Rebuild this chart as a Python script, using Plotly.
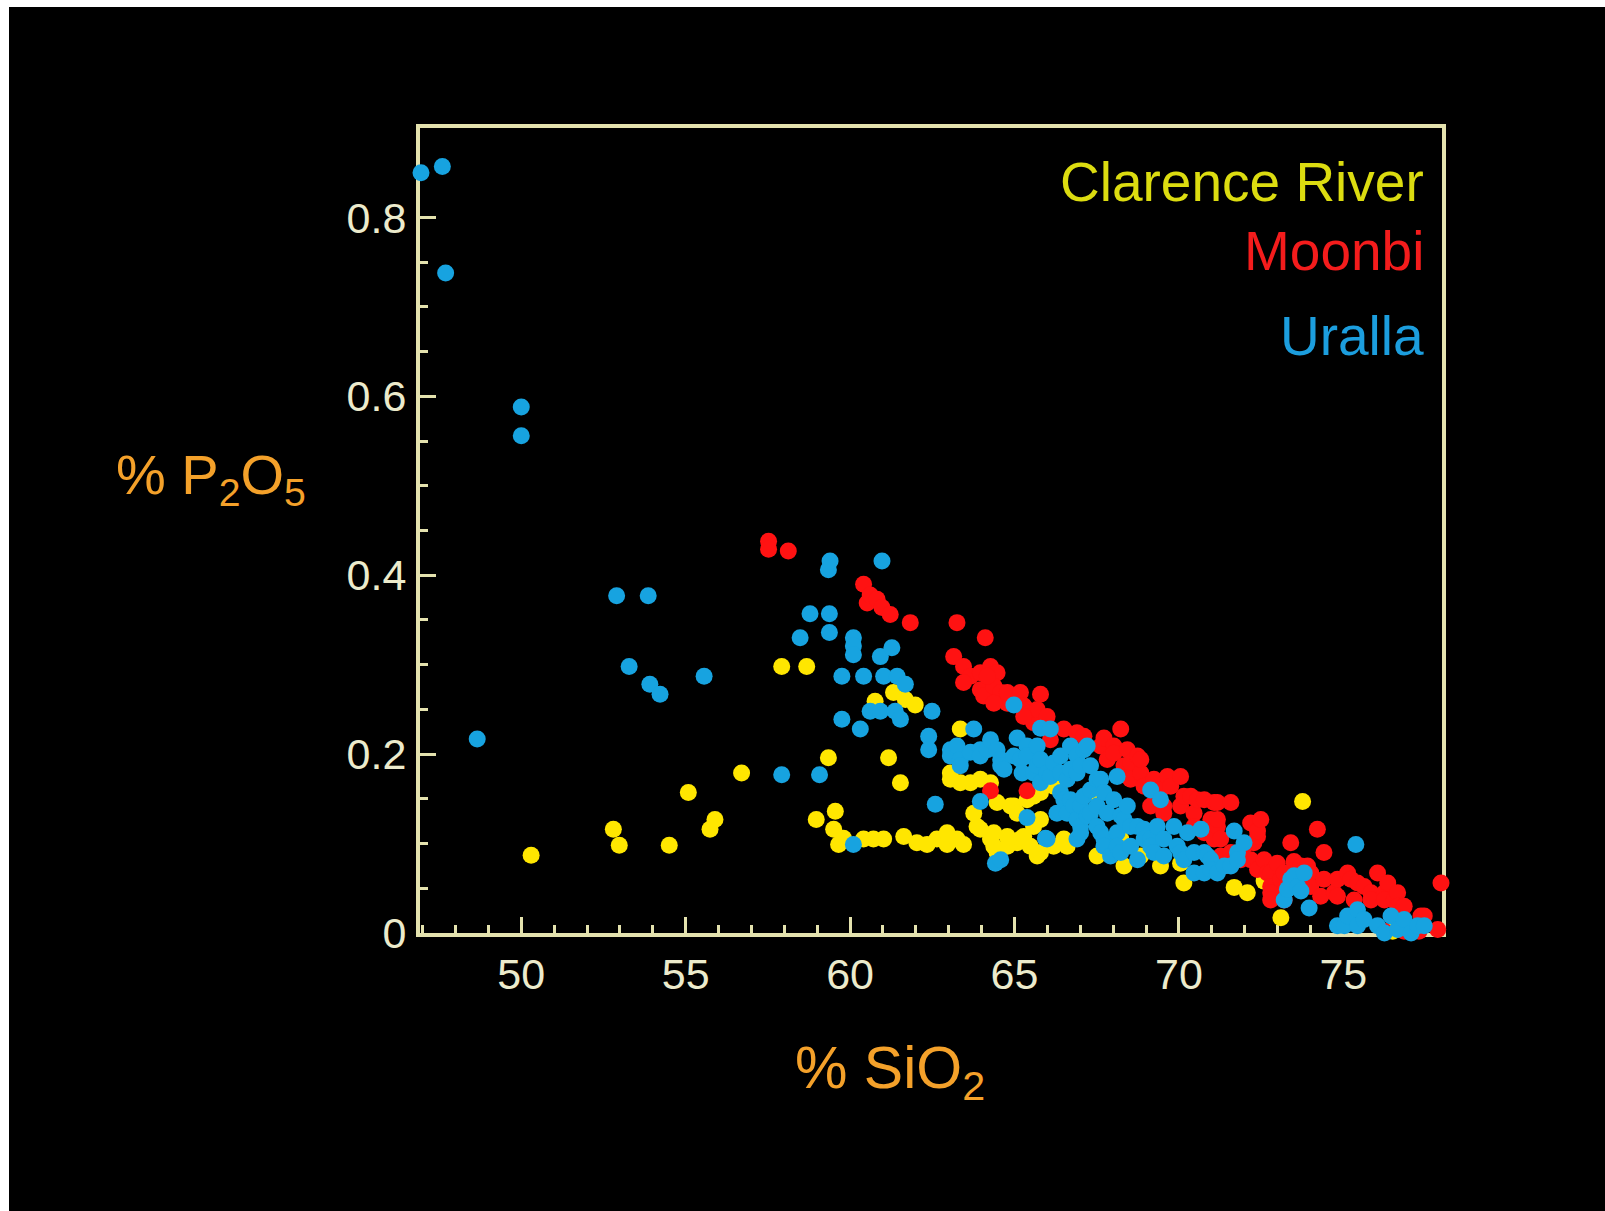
import plotly.graph_objects as go

# ---- Whole-rock analyses: SiO2 (wt %) vs P2O5 (wt %) ----
clarence_sio2 = [50.30, 52.80, 52.98, 54.50, 55.08, 55.74, 55.89, 56.70, 57.92, 58.68,
                 58.97, 59.34, 59.50, 59.55, 59.65, 59.80, 60.41, 60.71, 60.76, 61.02,
                 61.17, 61.32, 61.53, 61.63, 61.68, 61.98, 62.03, 62.34, 62.64, 62.95,
                 62.95, 63.05, 63.05, 63.25, 63.35, 63.35, 63.45, 63.66, 63.76, 63.86,
                 63.96, 63.96, 64.27, 64.27, 64.37, 64.37, 64.47, 64.47, 64.78, 64.78,
                 64.88, 64.98, 65.08, 65.08, 65.18, 65.28, 65.38, 65.48, 65.58, 65.58,
                 65.69, 65.79, 65.79, 65.79, 66.19, 66.19, 66.40, 66.50, 66.60, 67.31,
                 67.51, 68.23, 68.33, 68.84, 69.44, 70.05, 70.15, 71.68, 72.08, 72.59,
                 73.10, 73.76, 76.50]
clarence_p2o5 = [0.087, 0.116, 0.098, 0.098, 0.157, 0.116, 0.127, 0.179, 0.298, 0.298,
                 0.127, 0.196, 0.116, 0.136, 0.099, 0.106, 0.105, 0.105, 0.259, 0.105,
                 0.196, 0.269, 0.168, 0.108, 0.261, 0.255, 0.101, 0.099, 0.105, 0.112,
                 0.099, 0.179, 0.172, 0.105, 0.228, 0.168, 0.099, 0.168, 0.134, 0.119,
                 0.172, 0.116, 0.168, 0.105, 0.112, 0.097, 0.146, 0.090, 0.108, 0.097,
                 0.142, 0.142, 0.134, 0.101, 0.105, 0.108, 0.149, 0.097, 0.153, 0.119,
                 0.086, 0.157, 0.127, 0.090, 0.164, 0.097, 0.168, 0.105, 0.097, 0.157,
                 0.086, 0.105, 0.075, 0.086, 0.075, 0.078, 0.056, 0.051, 0.045, 0.058,
                 0.017, 0.147, 0.002]

moonbi_sio2 = [57.52, 57.52, 58.12, 60.41, 60.52, 60.61, 60.82, 60.97, 61.22, 61.83,
               63.25, 64.11, 63.15, 63.45, 63.66, 63.96, 64.27, 64.47, 63.45, 63.96,
               64.37, 64.06, 64.37, 64.17, 64.58, 64.78, 64.37, 64.78, 65.18, 65.28,
               65.38, 65.48, 65.58, 65.69, 65.79, 65.99, 65.28, 66.09, 66.50, 66.90,
               67.11, 67.62, 67.72, 67.82, 68.02, 68.02, 68.23, 68.33, 68.43, 68.53,
               68.53, 68.74, 68.84, 68.84, 68.94, 69.14, 69.24, 69.44, 69.54, 69.54,
               69.65, 69.75, 70.05, 70.05, 70.15, 70.36, 70.46, 70.46, 70.56, 70.77,
               70.77, 70.87, 70.97, 71.07, 71.07, 71.17, 71.17, 71.17, 71.27, 71.27,
               71.38, 71.58, 71.58, 71.88, 71.98, 72.18, 72.18, 72.28, 72.39, 72.39,
               72.39, 72.49, 72.59, 72.69, 72.79, 72.79, 72.79, 72.79, 72.99, 73.10,
               73.20, 73.20, 73.20, 73.40, 73.50, 73.71, 73.91, 74.01, 74.01, 74.21,
               74.31, 74.41, 74.41, 74.72, 74.82, 74.82, 75.13, 75.23, 75.33, 75.43,
               75.63, 75.84, 75.84, 76.04, 76.25, 76.25, 76.35, 76.55, 76.65, 76.65,
               76.85, 77.36, 77.46, 77.87, 77.97, 76.25, 76.85, 77.30, 64.27, 65.38]
moonbi_p2o5 = [0.438, 0.429, 0.427, 0.390, 0.369, 0.378, 0.373, 0.364, 0.356, 0.347,
               0.347, 0.330, 0.309, 0.298, 0.287, 0.291, 0.298, 0.291, 0.280, 0.272,
               0.265, 0.265, 0.276, 0.287, 0.269, 0.257, 0.257, 0.269, 0.269, 0.254,
               0.250, 0.246, 0.235, 0.250, 0.267, 0.242, 0.242, 0.216, 0.228, 0.224,
               0.220, 0.209, 0.218, 0.194, 0.209, 0.201, 0.228, 0.187, 0.205, 0.190,
               0.172, 0.198, 0.179, 0.194, 0.164, 0.142, 0.172, 0.160, 0.142, 0.134,
               0.175, 0.164, 0.175, 0.142, 0.153, 0.153, 0.134, 0.119, 0.149, 0.149,
               0.112, 0.116, 0.127, 0.146, 0.105, 0.146, 0.119, 0.127, 0.105, 0.086,
               0.075, 0.146, 0.090, 0.082, 0.097, 0.123, 0.082, 0.101, 0.108, 0.114,
               0.071, 0.127, 0.082, 0.067, 0.067, 0.052, 0.045, 0.037, 0.078, 0.060,
               0.067, 0.045, 0.037, 0.101, 0.080, 0.075, 0.075, 0.067, 0.052, 0.116,
               0.041, 0.090, 0.060, 0.045, 0.060, 0.041, 0.067, 0.060, 0.037, 0.056,
               0.052, 0.045, 0.037, 0.067, 0.045, 0.037, 0.056, 0.037, 0.045, 0.030,
               0.030, 0.019, 0.019, 0.004, 0.056, 0.002, 0.002, 0.002, 0.159, 0.159]

uralla_sio2 = [46.95, 47.60, 47.70, 48.66, 50.00, 50.00, 52.90, 53.86, 53.28, 53.91,
               54.22, 55.56, 57.92, 58.48, 58.78, 59.07, 59.34, 59.39, 59.37, 59.37,
               59.75, 59.75, 60.10, 60.10, 60.10, 60.10, 60.31, 60.41, 60.61, 60.92,
               60.92, 60.97, 61.02, 61.27, 61.37, 61.43, 61.53, 61.68, 62.39, 62.39,
               62.49, 62.59, 63.05, 63.05, 63.25, 63.35, 63.35, 63.66, 63.76, 63.96,
               63.96, 63.96, 64.17, 64.27, 64.42, 64.47, 64.58, 64.58, 64.58, 64.68,
               64.98, 64.98, 65.08, 65.18, 65.23, 65.38, 65.38, 65.38, 65.58, 65.69,
               65.69, 65.79, 65.79, 65.79, 65.94, 65.99, 65.99, 66.09, 66.09, 66.19,
               66.29, 66.40, 66.40, 66.40, 66.50, 66.60, 66.60, 66.70, 66.70, 66.70,
               66.80, 66.90, 66.90, 66.90, 66.90, 67.01, 67.01, 67.01, 67.01, 67.11,
               67.11, 67.21, 67.21, 67.31, 67.31, 67.31, 67.51, 67.51, 67.51, 67.62,
               67.62, 67.72, 67.72, 67.72, 67.82, 67.92, 68.02, 68.12, 68.12, 68.12,
               68.23, 68.23, 68.33, 68.43, 68.53, 68.53, 68.74, 68.74, 68.94, 68.94,
               69.14, 69.14, 69.14, 69.24, 69.34, 69.44, 69.54, 69.54, 69.85, 69.95,
               70.05, 70.15, 70.26, 70.46, 70.46, 70.67, 70.77, 70.77, 70.87, 70.97,
               70.97, 71.17, 71.38, 71.58, 71.68, 71.78, 71.78, 71.98, 73.20, 73.30,
               73.40, 73.50, 73.61, 73.71, 73.81, 73.96, 74.82, 75.03, 75.13, 75.38,
               75.43, 75.43, 75.63, 76.04, 76.25, 76.45, 76.65, 76.85, 77.06, 77.26,
               77.46]
uralla_p2o5 = [0.850, 0.857, 0.738, 0.217, 0.588, 0.556, 0.377, 0.377, 0.298, 0.278,
               0.267, 0.287, 0.177, 0.330, 0.357, 0.177, 0.406, 0.416, 0.357, 0.336,
               0.287, 0.239, 0.330, 0.321, 0.311, 0.099, 0.228, 0.287, 0.248, 0.309,
               0.248, 0.416, 0.287, 0.319, 0.248, 0.287, 0.239, 0.278, 0.220, 0.205,
               0.248, 0.144, 0.205, 0.198, 0.209, 0.194, 0.187, 0.202, 0.228, 0.205,
               0.198, 0.147, 0.205, 0.216, 0.078, 0.205, 0.194, 0.187, 0.082, 0.183,
               0.255, 0.198, 0.218, 0.194, 0.179, 0.209, 0.198, 0.129, 0.179, 0.209,
               0.187, 0.229, 0.194, 0.168, 0.106, 0.179, 0.105, 0.228, 0.175, 0.190,
               0.134, 0.198, 0.179, 0.157, 0.149, 0.172, 0.134, 0.209, 0.183, 0.149,
               0.142, 0.198, 0.179, 0.127, 0.105, 0.187, 0.142, 0.119, 0.112, 0.205,
               0.153, 0.209, 0.131, 0.187, 0.160, 0.134, 0.172, 0.142, 0.119, 0.172,
               0.112, 0.157, 0.105, 0.097, 0.134, 0.086, 0.149, 0.175, 0.112, 0.097,
               0.131, 0.090, 0.127, 0.142, 0.119, 0.097, 0.119, 0.082, 0.116, 0.105,
               0.160, 0.105, 0.097, 0.090, 0.119, 0.149, 0.105, 0.086, 0.119, 0.097,
               0.090, 0.082, 0.112, 0.090, 0.067, 0.116, 0.090, 0.067, 0.086, 0.082,
               0.071, 0.067, 0.075, 0.075, 0.114, 0.090, 0.082, 0.101, 0.037, 0.049,
               0.060, 0.064, 0.052, 0.047, 0.067, 0.028, 0.008, 0.008, 0.019, 0.099,
               0.026, 0.008, 0.015, 0.008, 0.000, 0.019, 0.004, 0.015, 0.000, 0.008,
               0.008]

series_names = ["Clarence River", "Moonbi", "Uralla"]
marker_colors = ["#ffe600", "#ff1212", "#17a3e0"]
label_colors = ["#dcdc10", "#f41c1c", "#1c9ede"]

x_ticks = [50, 55, 60, 65, 70, 75]
y_ticks = [0, 0.2, 0.4, 0.6, 0.8]
y_tick_text = ["0", "0.2", "0.4", "0.6", "0.8"]

# ---- Page geometry ----
W, H = 1605, 1211
ML, MR, MT, MB = 420, 163, 128, 278
AXIS_COLOR = "#e4e2ae"
TICK_TEXT = "#ecebcc"
TITLE_COLOR = "#f4a12a"
FONT = "Liberation Sans, Arial, sans-serif"


def paper_x(px):
    return (px - ML) / (W - ML - MR)


def paper_y(py):
    return (H - MB - py) / (H - MT - MB)


fig = go.Figure()
for name, xs, ys, col in zip(series_names,
                             [clarence_sio2, moonbi_sio2, uralla_sio2],
                             [clarence_p2o5, moonbi_p2o5, uralla_p2o5],
                             marker_colors):
    fig.add_trace(go.Scatter(x=xs, y=ys, mode="markers", name=name,
                             marker=dict(size=17, color=col, line=dict(width=0)),
                             cliponaxis=False, showlegend=False))

axis_common = dict(
    showline=True, linewidth=4, linecolor=AXIS_COLOR, mirror=True,
    showgrid=False, zeroline=False,
    ticks="inside", ticklen=16, tickwidth=3, tickcolor=AXIS_COLOR,
    tickfont=dict(family=FONT, size=43, color=TICK_TEXT),
    layer="below traces",
)

fig.update_xaxes(range=[46.92, 78.0], tickvals=x_ticks, ticklabelstandoff=0,
                 minor=dict(dtick=1, tick0=0, ticks="inside", ticklen=8,
                            tickwidth=3, tickcolor=AXIS_COLOR),
                 **axis_common)
fig.update_yaxes(range=[0, 0.9], tickvals=y_ticks, ticktext=y_tick_text,
                 ticklabelstandoff=1,
                 minor=dict(dtick=0.05, tick0=0, ticks="inside", ticklen=8,
                            tickwidth=3, tickcolor=AXIS_COLOR),
                 **axis_common)

annotations = []
# series labels, right-aligned inside the frame
for name, col, py in zip(series_names, label_colors, [182, 251, 336]):
    annotations.append(dict(text=name, xref="paper", yref="paper",
                            x=paper_x(1426), y=paper_y(py),
                            xanchor="right", yanchor="middle", showarrow=False,
                            font=dict(family=FONT, size=55, color=col)))
# axis titles
annotations.append(dict(text="% P<sub>2</sub>O<sub>5</sub>", xref="paper", yref="paper",
                        x=paper_x(211), y=paper_y(478), xanchor="center",
                        yanchor="middle", showarrow=False,
                        font=dict(family=FONT, size=56, color=TITLE_COLOR)))
annotations.append(dict(text="% SiO<sub>2</sub>", xref="paper", yref="paper",
                        x=paper_x(890), y=paper_y(1072), xanchor="center",
                        yanchor="middle", showarrow=False,
                        font=dict(family=FONT, size=59, color=TITLE_COLOR)))

# thin white strips along the top and left page edges
shapes = [
    dict(type="rect", xref="paper", yref="paper", x0=paper_x(0), x1=paper_x(W),
         y0=paper_y(0), y1=paper_y(7), fillcolor="white", line=dict(width=0)),
    dict(type="rect", xref="paper", yref="paper", x0=paper_x(0), x1=paper_x(9),
         y0=paper_y(0), y1=paper_y(H), fillcolor="white", line=dict(width=0)),
]

fig.update_layout(
    width=W, height=H, autosize=False,
    margin=dict(l=ML, r=MR, t=MT, b=MB, pad=0),
    paper_bgcolor="black", plot_bgcolor="black",
    annotations=annotations, shapes=shapes,
    font=dict(family=FONT),
)

fig.write_html("out.html")
